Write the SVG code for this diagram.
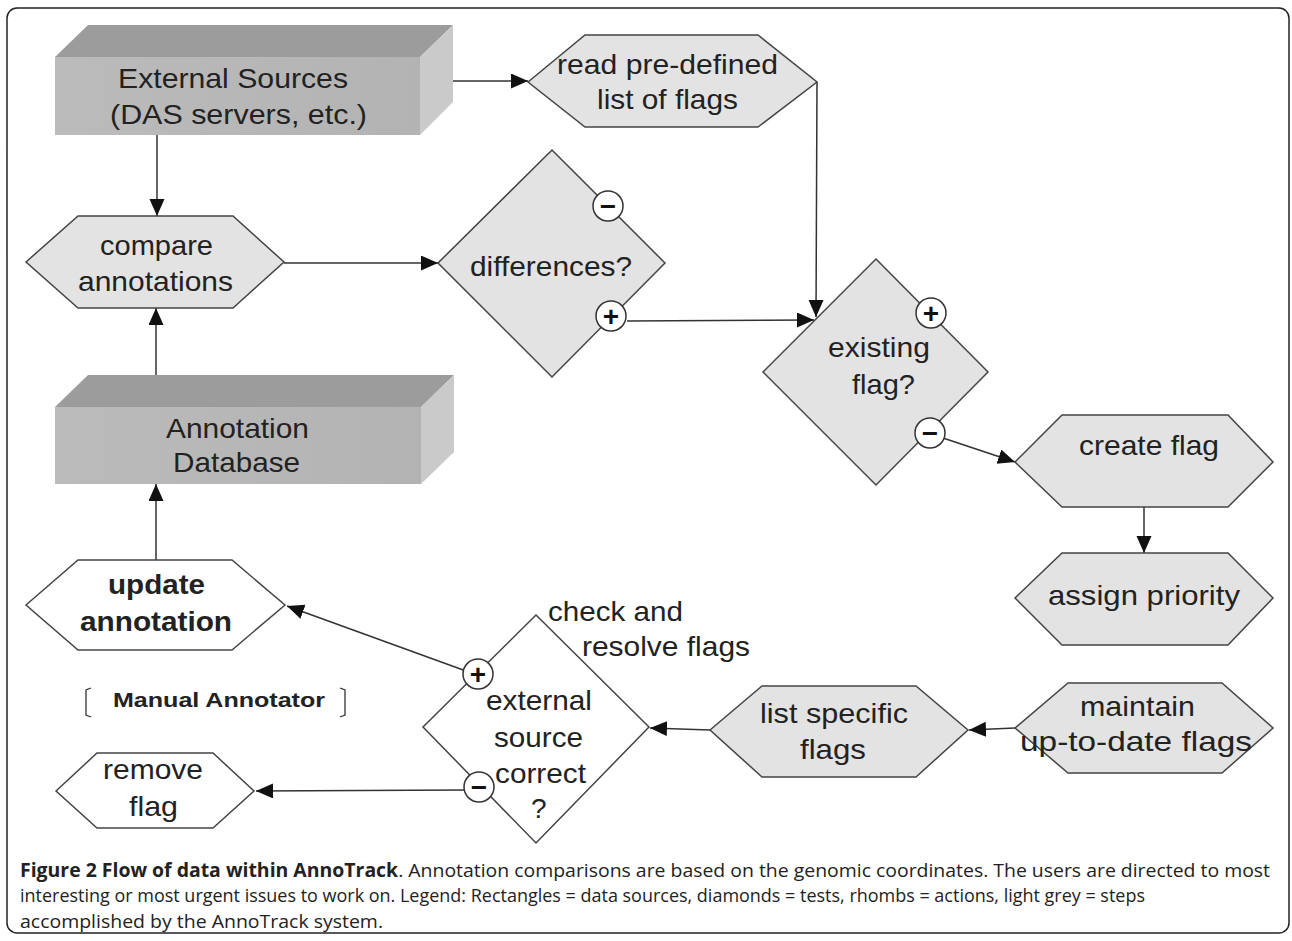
<svg xmlns="http://www.w3.org/2000/svg" width="1292" height="941" viewBox="0 0 1292 941">
<defs>
<marker id="ah" markerUnits="userSpaceOnUse" markerWidth="18" markerHeight="16" refX="17" refY="7.5" orient="auto">
<path d="M0,0 L17,7.5 L0,15 z" fill="#111"/>
</marker>
<linearGradient id="front" x1="0" y1="0" x2="1" y2="0">
<stop offset="0" stop-color="#bbbbbb"/><stop offset="1" stop-color="#b3b3b3"/>
</linearGradient>
</defs>
<style>
.t{font-family:"Liberation Sans",Arial,sans-serif;font-size:28px;fill:#222}
.b{font-weight:bold}
.hx{fill:#e3e3e3;stroke:#444;stroke-width:1.5}
.hw{fill:#fff;stroke:#444;stroke-width:1.5}
.c{fill:none;stroke:#333;stroke-width:1.5;marker-end:url(#ah)}
.ci{fill:#fff;stroke:#333;stroke-width:1.5}
.sg{font-family:"Liberation Sans",Arial,sans-serif;font-size:28px;font-weight:bold;fill:#111;text-anchor:middle}
.cap{font-family:"Open Sans","Liberation Sans",sans-serif;font-size:19px;fill:#222}
</style>
<rect x="0" y="0" width="1292" height="941" fill="#fff"/>
<rect x="7" y="8" width="1282" height="925" rx="10" fill="none" stroke="#222" stroke-width="1.5"/>

<g id="connectors">
<path class="c" d="M157,135 L157,216"/>
<path class="c" d="M437,81 L528,81"/>
<path class="c" d="M817,82 L816,317"/>
<path class="c" d="M284,263 L438,263"/>
<path class="c" d="M156,375 L156,308"/>
<path class="c" d="M627,321 L814,320"/>
<path class="c" d="M943,438 L1015,462"/>
<path class="c" d="M1144,507 L1144,553"/>
<path class="c" d="M1015,728 L969,730"/>
<path class="c" d="M710,730 L650,728"/>
<path class="c" d="M156,560 L156,484"/>
<path class="c" d="M466,671 L287,606"/>
<path class="c" d="M465,790 L256,791"/>
</g>

<g id="external-sources">
<polygon points="55,57 88,25 453,25 420,57" fill="#9c9c9c"/>
<polygon points="420,57 453,25 453,102 420,135" fill="#cacaca"/>
<rect x="55" y="57" width="365" height="78" fill="url(#front)"/>
<text class="t" x="118" y="88" textLength="230" lengthAdjust="spacingAndGlyphs">External Sources</text>
<text class="t" x="110" y="124" textLength="257" lengthAdjust="spacingAndGlyphs">(DAS servers, etc.)</text>
</g>

<g id="read-flags">
<polygon class="hx" points="528,82 585,35 758,35 817,82 758,127 585,127"/>
<text class="t" x="557" y="74" textLength="221" lengthAdjust="spacingAndGlyphs">read pre-defined</text>
<text class="t" x="597" y="109" textLength="141" lengthAdjust="spacingAndGlyphs">list of flags</text>
</g>

<g id="compare">
<polygon class="hx" points="26,262 78,216 233,216 284,262 233,308 78,308"/>
<text class="t" x="100" y="255" textLength="113" lengthAdjust="spacingAndGlyphs">compare</text>
<text class="t" x="78" y="291" textLength="155" lengthAdjust="spacingAndGlyphs">annotations</text>
</g>

<g id="differences">
<polygon class="hx" points="552,150 665,263 552,377 438,263"/>
<text class="t" x="470" y="276" textLength="162" lengthAdjust="spacingAndGlyphs">differences?</text>
<circle class="ci" cx="608" cy="206" r="15"/>
<text class="sg" x="608" y="216">−</text>
<circle class="ci" cx="611" cy="316" r="15"/>
<text class="sg" x="611" y="326">+</text>
</g>

<g id="existing-flag">
<polygon class="hx" points="876,259 988,372 876,485 763,372"/>
<text class="t" x="828" y="357" textLength="102" lengthAdjust="spacingAndGlyphs">existing</text>
<text class="t" x="852" y="394" textLength="63" lengthAdjust="spacingAndGlyphs">flag?</text>
<circle class="ci" cx="931" cy="313" r="15"/>
<text class="sg" x="931" y="323">+</text>
<circle class="ci" cx="930" cy="433" r="15"/>
<text class="sg" x="930" y="443">−</text>
</g>

<g id="create-flag">
<polygon class="hx" points="1015,462 1062,415 1228,415 1273,462 1228,507 1062,507"/>
<text class="t" x="1079" y="455" textLength="140" lengthAdjust="spacingAndGlyphs">create flag</text>
</g>

<g id="assign-priority">
<polygon class="hx" points="1015,598 1062,553 1228,553 1273,598 1228,645 1062,645"/>
<text class="t" x="1048" y="605" textLength="192" lengthAdjust="spacingAndGlyphs">assign priority</text>
</g>

<g id="annotation-database">
<polygon points="55,407 88,375 454,375 421,407" fill="#9c9c9c"/>
<polygon points="421,407 454,375 454,452 421,484" fill="#cacaca"/>
<rect x="55" y="407" width="366" height="77" fill="url(#front)"/>
<text class="t" x="166" y="438" textLength="143" lengthAdjust="spacingAndGlyphs">Annotation</text>
<text class="t" x="173" y="472" textLength="127" lengthAdjust="spacingAndGlyphs">Database</text>
</g>

<g id="update-annotation">
<polygon class="hw" points="26,605 78,560 232,560 285,605 232,650 78,650"/>
<text class="t b" x="108" y="594" textLength="97" lengthAdjust="spacingAndGlyphs">update</text>
<text class="t b" x="80" y="631" textLength="152" lengthAdjust="spacingAndGlyphs">annotation</text>
</g>

<g id="manual-annotator">
<path d="M91,688 L86,690 L86,715 L91,717" fill="none" stroke="#333" stroke-width="1.3"/>
<text class="t b" x="113" y="707" style="font-size:20px" textLength="212" lengthAdjust="spacingAndGlyphs">Manual Annotator</text>
<path d="M340,688 L345,690 L345,715 L340,717" fill="none" stroke="#333" stroke-width="1.3"/>
</g>

<g id="external-correct">
<polygon class="hw" points="536,615 649,727 536,843 423,727"/>
<text class="t" x="486" y="710" textLength="106" lengthAdjust="spacingAndGlyphs">external</text>
<text class="t" x="494" y="747" textLength="89" lengthAdjust="spacingAndGlyphs">source</text>
<text class="t" x="495" y="783" textLength="91" lengthAdjust="spacingAndGlyphs">correct</text>
<text class="t" x="531" y="818">?</text>
<circle class="ci" cx="478" cy="674" r="15"/>
<text class="sg" x="478" y="684">+</text>
<circle class="ci" cx="479" cy="787" r="15"/>
<text class="sg" x="479" y="797">−</text>
<text class="t" x="548" y="621" textLength="135" lengthAdjust="spacingAndGlyphs">check and</text>
<text class="t" x="582" y="656" textLength="168" lengthAdjust="spacingAndGlyphs">resolve flags</text>
</g>

<g id="list-flags">
<polygon class="hx" points="710,730 762,686 916,686 968,730 916,777 762,777"/>
<text class="t" x="760" y="723" textLength="148" lengthAdjust="spacingAndGlyphs">list specific</text>
<text class="t" x="800" y="759" textLength="66" lengthAdjust="spacingAndGlyphs">flags</text>
</g>

<g id="maintain-flags">
<polygon class="hx" points="1015,728 1068,683 1222,683 1273,728 1222,773 1068,773"/>
<text class="t" x="1080" y="716" textLength="115" lengthAdjust="spacingAndGlyphs">maintain</text>
<text class="t" x="1020" y="751" textLength="232" lengthAdjust="spacingAndGlyphs">up-to-date flags</text>
</g>

<g id="remove-flag">
<polygon class="hw" points="56,791 97,753 213,753 254,791 213,828 97,828"/>
<text class="t" x="103" y="779" textLength="100" lengthAdjust="spacingAndGlyphs">remove</text>
<text class="t" x="129" y="816" textLength="49" lengthAdjust="spacingAndGlyphs">flag</text>
</g>

<g id="caption">
<text class="cap" x="20" y="877" textLength="1250" lengthAdjust="spacingAndGlyphs"><tspan font-weight="bold">Figure 2 Flow of data within AnnoTrack</tspan>. Annotation comparisons are based on the genomic coordinates. The users are directed to most</text>
<text class="cap" x="20" y="902" textLength="1125" lengthAdjust="spacingAndGlyphs">interesting or most urgent issues to work on. Legend: Rectangles = data sources, diamonds = tests, rhombs = actions, light grey = steps</text>
<text class="cap" x="20" y="928" textLength="363" lengthAdjust="spacingAndGlyphs">accomplished by the AnnoTrack system.</text>
</g>
</svg>
